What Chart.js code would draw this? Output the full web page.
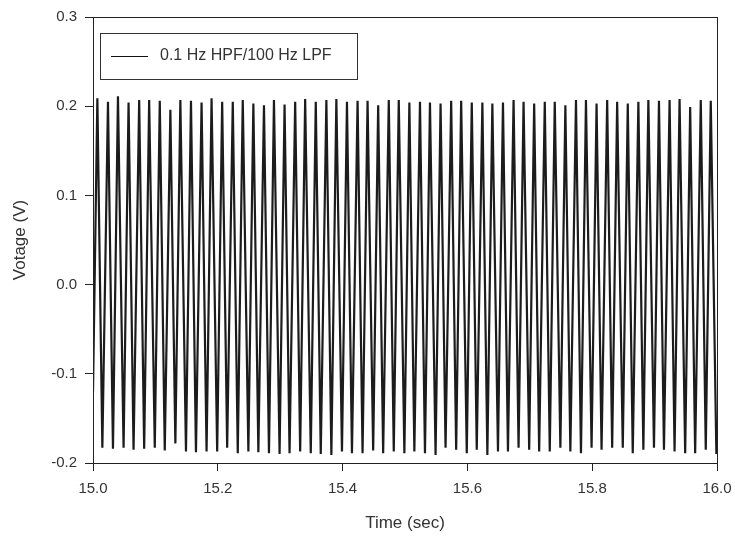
<!DOCTYPE html>
<html>
<head>
<meta charset="utf-8">
<script src="https://cdn.jsdelivr.net/npm/chart.js@4"></script>
<style>
  html, body { margin: 0; padding: 0; background: #fff; }
  #wrap { width: 735px; height: 542px; }
</style>
</head>
<body>
<div id="wrap"><canvas id="voltChart" width="735" height="542"></canvas></div>
<script>
// signal extremes (sec, V)
const startPoint = [15.0, -0.12];

const peakTime = [15.007, 15.024, 15.040, 15.057, 15.074, 15.090, 15.107, 15.124, 15.140, 15.157,
                  15.174, 15.190, 15.207, 15.224, 15.240, 15.257, 15.274, 15.290, 15.307, 15.324,
                  15.340, 15.357, 15.374, 15.390, 15.407, 15.424, 15.440, 15.457, 15.474, 15.490,
                  15.507, 15.524, 15.540, 15.557, 15.574, 15.590, 15.607, 15.624, 15.640, 15.657,
                  15.674, 15.690, 15.707, 15.724, 15.740, 15.757, 15.774, 15.790, 15.807, 15.824,
                  15.840, 15.857, 15.874, 15.890, 15.907, 15.924, 15.940, 15.957, 15.974, 15.990];
const peakVolt = [0.209, 0.205, 0.211, 0.204, 0.207, 0.207, 0.206, 0.196, 0.207, 0.206,
                  0.204, 0.209, 0.205, 0.205, 0.207, 0.203, 0.201, 0.207, 0.202, 0.205,
                  0.208, 0.205, 0.207, 0.208, 0.205, 0.206, 0.206, 0.201, 0.207, 0.207,
                  0.204, 0.205, 0.204, 0.203, 0.206, 0.206, 0.204, 0.204, 0.203, 0.204,
                  0.207, 0.205, 0.203, 0.205, 0.205, 0.201, 0.207, 0.207, 0.203, 0.207,
                  0.205, 0.203, 0.205, 0.207, 0.206, 0.207, 0.208, 0.199, 0.207, 0.206];

const troughTime = [15.015, 15.032, 15.049, 15.065, 15.082, 15.099, 15.115, 15.132, 15.149, 15.165,
                    15.182, 15.199, 15.215, 15.232, 15.249, 15.265, 15.282, 15.299, 15.315, 15.332,
                    15.349, 15.365, 15.382, 15.399, 15.415, 15.432, 15.449, 15.465, 15.482, 15.499,
                    15.515, 15.532, 15.549, 15.565, 15.582, 15.599, 15.615, 15.632, 15.649, 15.665,
                    15.682, 15.699, 15.715, 15.732, 15.749, 15.765, 15.782, 15.799, 15.815, 15.832,
                    15.849, 15.865, 15.882, 15.899, 15.915, 15.932, 15.949, 15.965, 15.982, 15.999];
const troughVolt = [-0.183, -0.184, -0.183, -0.185, -0.184, -0.183, -0.186, -0.178, -0.187, -0.188,
                    -0.187, -0.187, -0.183, -0.189, -0.187, -0.188, -0.189, -0.190, -0.189, -0.187,
                    -0.189, -0.190, -0.191, -0.187, -0.189, -0.189, -0.186, -0.189, -0.187, -0.189,
                    -0.187, -0.189, -0.191, -0.183, -0.185, -0.189, -0.185, -0.191, -0.187, -0.187,
                    -0.183, -0.185, -0.187, -0.187, -0.183, -0.187, -0.189, -0.183, -0.185, -0.183,
                    -0.183, -0.189, -0.185, -0.183, -0.185, -0.187, -0.189, -0.189, -0.185, -0.190];

const seriesLabel = '0.1 Hz HPF/100 Hz LPF';
const xTicks = [15.0, 15.2, 15.4, 15.6, 15.8, 16.0];
const yTicks = [-0.2, -0.1, 0.0, 0.1, 0.2, 0.3];

// peak, trough, peak, trough ...
const points = [{ x: startPoint[0], y: startPoint[1] }];
for (let i = 0; i < peakTime.length; i++) {
    points.push({ x: peakTime[i], y: peakVolt[i] });
    points.push({ x: troughTime[i], y: troughVolt[i] });
}

const FONT = '"Liberation Sans", Arial, sans-serif';
const TXT = '#333';

// box around the plot + boxed legend like the original
const framePlugin = {
    id: 'frame',
    afterDraw(chart) {
        const { ctx, chartArea: a } = chart;
        ctx.save();
        ctx.strokeStyle = '#222';
        ctx.lineWidth = 1;
        ctx.strokeRect(a.left + 0.5, a.top + 0.5, a.right - a.left, a.bottom - a.top);

        // legend
        ctx.fillStyle = '#fff';
        ctx.fillRect(100, 33, 257, 46);
        ctx.strokeStyle = '#333';
        ctx.strokeRect(100.5, 33.5, 257, 46);
        ctx.strokeStyle = '#111';
        ctx.beginPath();
        ctx.moveTo(111, 56.5);
        ctx.lineTo(148, 56.5);
        ctx.stroke();
        ctx.fillStyle = TXT;
        ctx.font = '16px ' + FONT;
        ctx.textBaseline = 'middle';
        ctx.fillText(seriesLabel, 160, 56);
        ctx.restore();
    }
};

const chart = new Chart(document.getElementById('voltChart').getContext('2d'), {
    type: 'line',
    data: {
        datasets: [{
            label: seriesLabel,
            data: points,
            borderColor: '#1c1c1c',
            borderWidth: 2.2,
            pointRadius: 0,
            tension: 0
        }]
    },
    options: {
        responsive: false,
        animation: false,
        events: [],
        layout: { padding: { left: 6, right: 0, top: 17, bottom: 4 } },
        plugins: {
            legend: { display: false },
            tooltip: { enabled: false }
        },
        scales: {
            x: {
                type: 'linear',
                min: 15, max: 16,
                afterBuildTicks: s => { s.ticks = xTicks.map(v => ({ value: v })); },
                afterFit: s => {
                    s.height = 75;
                    s.paddingRight = 18;
                },
                ticks: {
                    color: TXT, font: { family: FONT, size: 15 }, padding: 9,
                    maxRotation: 0,
                    callback: v => v.toFixed(1)
                },
                grid: { drawOnChartArea: false, tickLength: 8, color: '#222' },
                border: { color: '#222' },
                title: {
                    display: true, text: 'Time (sec)', color: TXT,
                    font: { family: FONT, size: 17 }, padding: { top: 12 }
                }
            },
            y: {
                min: -0.2, max: 0.3,
                afterBuildTicks: s => { s.ticks = yTicks.map(v => ({ value: v })); },
                afterFit: s => { s.width = 87; },
                ticks: {
                    color: TXT, font: { family: FONT, size: 15 }, padding: 8,
                    callback: v => v.toFixed(1)
                },
                grid: { drawOnChartArea: false, tickLength: 8, color: '#222' },
                border: { color: '#222' },
                title: {
                    display: true, text: 'Votage (V)', color: TXT,
                    font: { family: FONT, size: 17 }, padding: { bottom: 4 }
                }
            }
        }
    },
    plugins: [framePlugin]
});
</script>
</body>
</html>
